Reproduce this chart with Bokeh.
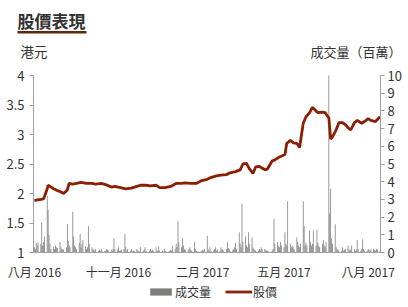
import pandas as pd
from bokeh.plotting import figure
from bokeh.models import (Range1d, LinearAxis, FixedTicker, Label, BoxAnnotation,
                          Legend, LegendItem, ColumnDataSource)
from bokeh.embed import file_html
from bokeh.resources import INLINE

# ---------------- data ----------------
price_dates = [
    "2016-08-01", "2016-08-04", "2016-08-08", "2016-08-11", "2016-08-12", "2016-08-15",
    "2016-08-16", "2016-08-18", "2016-08-22", "2016-08-26", "2016-08-31", "2016-09-02",
    "2016-09-06", "2016-09-08", "2016-09-12", "2016-09-16", "2016-09-21", "2016-09-27",
    "2016-10-03", "2016-10-07", "2016-10-13", "2016-10-18", "2016-10-24", "2016-10-28",
    "2016-11-03", "2016-11-09", "2016-11-15", "2016-11-21", "2016-11-25", "2016-12-01",
    "2016-12-06", "2016-12-12", "2016-12-16", "2016-12-22", "2016-12-28", "2017-01-03",
    "2017-01-09", "2017-01-13", "2017-01-19", "2017-01-25", "2017-01-31", "2017-02-06",
    "2017-02-10", "2017-02-16", "2017-02-21", "2017-02-27", "2017-03-03", "2017-03-09",
    "2017-03-14", "2017-03-17", "2017-03-21", "2017-03-24", "2017-03-28", "2017-03-31",
    "2017-04-04", "2017-04-07", "2017-04-11", "2017-04-13", "2017-04-18", "2017-04-21",
    "2017-04-26", "2017-05-02", "2017-05-04", "2017-05-08", "2017-05-11", "2017-05-15",
    "2017-05-18", "2017-05-22", "2017-05-25", "2017-05-29", "2017-06-01", "2017-06-05",
    "2017-06-07", "2017-06-12", "2017-06-15", "2017-06-19", "2017-06-21", "2017-06-23",
    "2017-06-27", "2017-06-30", "2017-07-04", "2017-07-07", "2017-07-11", "2017-07-13",
    "2017-07-17", "2017-07-20", "2017-07-25", "2017-07-28", "2017-08-01", "2017-08-04",
    "2017-08-09", "2017-08-14",
]
price_values = [
    1.88, 1.89, 1.90, 1.91, 1.95, 2.08,
    2.14, 2.12, 2.08, 2.05, 2.02, 2.00,
    2.06, 2.17, 2.16, 2.17, 2.19, 2.17,
    2.17, 2.16, 2.17, 2.15, 2.11, 2.12,
    2.10, 2.08, 2.09, 2.12, 2.14, 2.14,
    2.13, 2.14, 2.10, 2.10, 2.12, 2.17,
    2.17, 2.18, 2.17, 2.17, 2.22, 2.24,
    2.27, 2.30, 2.31, 2.32, 2.35, 2.37,
    2.40, 2.50, 2.51, 2.42, 2.34, 2.45,
    2.46, 2.43, 2.40, 2.42, 2.55, 2.57,
    2.62, 2.66, 2.85, 2.90, 2.86, 2.85,
    2.78, 3.19, 3.30, 3.37, 3.46, 3.40,
    3.37, 3.38, 3.37, 3.28, 2.92, 2.96,
    3.08, 3.20, 3.20, 3.17, 3.10, 3.08,
    3.20, 3.24, 3.19, 3.22, 3.27, 3.24,
    3.22, 3.30,
]

# daily volume (millions), one row per week (Mon..Fri), from 2016-08-01
vol_values = [
    0.30, 0.20, 0.55, 0.40, 0.55,
    0.50, 1.70, 0.40, 0.60, 0.90,
    3.20, 2.40, 1.00, 0.50, 0.20,
    0.30, 0.20, 0.40, 0.30, 0.25,
    0.60, 0.30, 0.20, 0.20, 0.15,
    0.30, 1.60, 0.65, 0.40, 0.30,
    2.30, 0.90, 0.40, 0.30, 0.20,
    0.55, 1.05, 0.30, 0.50, 0.70,
    0.35, 0.20, 0.30, 1.50, 0.50,
    0.30, 0.20, 0.15, 0.10, 0.20,
    0.10, 0.15, 0.10, 0.20, 0.10,
    0.10, 0.10, 0.20, 0.15, 0.10,
    0.15, 0.10, 0.20, 0.80, 0.20,
    0.15, 0.30, 0.10, 0.10, 0.15,
    0.20, 1.05, 0.30, 0.10, 0.20,
    0.10, 0.20, 0.05, 0.10, 0.10,
    0.20, 0.10, 0.10, 0.05, 0.30,
    0.10, 0.15, 0.30, 0.10, 0.05,
    0.10, 0.20, 0.10, 0.15, 0.10,
    0.30, 0.10, 0.10, 0.35, 0.10,
    0.10, 0.05, 0.20, 0.10, 0.05,
    0.05, 0.10, 0.15, 0.10, 0.40,
    0.20, 0.50, 0.30, 1.75, 0.60,
    0.30, 0.80, 0.40, 0.20, 0.15,
    0.10, 0.20, 0.30, 0.15, 0.10,
    0.60, 0.20, 0.10, 0.05, 0.05,
    0.05, 0.10, 0.15, 0.10, 0.20,
    0.95, 0.20, 0.10, 0.30, 0.10,
    0.10, 0.20, 0.30, 0.10, 0.15,
    0.10, 0.30, 0.15, 0.20, 0.10,
    0.20, 0.60, 0.25, 0.20, 0.10,
    0.15, 0.20, 0.30, 0.55, 0.20,
    1.15, 0.50, 0.30, 2.75, 0.60,
    0.90, 0.40, 0.30, 1.15, 0.50,
    0.85, 0.30, 0.20, 0.15, 0.10,
    0.10, 0.20, 0.15, 0.30, 0.20,
    0.20, 0.15, 0.10, 0.10, 0.05,
    0.05, 0.10, 0.20, 1.90, 0.50,
    0.60, 0.40, 0.30, 0.60, 0.40,
    0.30, 1.15, 0.50, 0.40, 2.90,
    0.50, 0.30, 0.40, 0.30, 0.20,
    0.85, 0.60, 0.40, 0.30, 0.50,
    2.90, 1.50, 0.40, 0.55, 0.40,
    1.25, 0.60, 0.40, 0.50, 1.25,
    0.40, 1.30, 0.55, 0.40, 0.30,
    0.50, 0.70, 0.40, 0.30, 0.60,
    10.0, 2.20, 3.60, 0.80, 0.50,
    1.60, 0.30, 0.20, 0.15, 0.10,
    0.10, 0.30, 0.10, 0.15, 0.20,
    0.40, 0.20, 0.10, 0.15, 0.40,
    0.20, 0.10, 0.15, 0.70, 0.20,
    0.10, 0.20, 0.75, 0.20, 0.10,
    0.10, 0.20, 0.15, 0.10, 0.20,
    0.20, 0.15, 0.10, 0.20, 0.15,
    0.10,
]

x_tick_dates = ["2016-08-01", "2016-11-01", "2017-02-01", "2017-05-01", "2017-08-01"]
x_tick_labels = ["八月 2016", "十一月 2016", "二月 2017", "五月 2017", "八月 2017"]
left_ticks = [1, 1.5, 2, 2.5, 3, 3.5, 4]
left_tick_labels = ["1", "1.5", "2", "2.5", "3", "3.5", "4"]
right_ticks = [0, 1, 2, 3, 4, 5, 6, 7, 8, 9, 10]
x_first, x_last = "2016-07-31", "2017-08-14 12:00"

title_text = "股價表現"
left_unit = "港元"
right_unit = "成交量（百萬）"
vol_name = "成交量"
price_name = "股價"

# ---------------- style / layout ----------------
W, H = 408, 307
PL, PR, PT, PB = 33, 380, 75, 252          # plot box in page pixels
NUM_FONT = "'Liberation Sans Narrow', 'Noto Sans CJK TC', sans-serif"
CJK_FONT = "'Noto Sans CJK TC', 'Liberation Sans', sans-serif"
PRICE_COLOR = "#8B1E03"
VOL_COLOR = "#7d7d7d"
AXIS_COLOR = "#a0a0a0"
TEXT_COLOR = "#333333"

# frame covers the whole page; axes are pinned at the plot-box edges
t0 = pd.Timestamp(x_first).value / 1e6
t1 = pd.Timestamp(x_last).value / 1e6
mpp = (t1 - t0) / (PR - PL)
x_range = Range1d(t0 - PL * mpp, t1 + (W - PR) * mpp)
lo, hi = left_ticks[0], left_ticks[-1]
upp = (hi - lo) / (PB - PT)
y_range = Range1d(lo - (H - PB) * upp, hi + PT * upp)
vlo, vhi = right_ticks[0], right_ticks[-1]
vpp = (vhi - vlo) / (PB - PT)
vol_range = Range1d(vlo - (H - PB) * vpp, vhi + PT * vpp)

p = figure(width=W, height=H, x_axis_type="datetime", x_range=x_range, y_range=y_range,
           output_backend="svg", toolbar_location=None,
           min_border=0, min_border_left=0, min_border_right=0,
           min_border_top=0, min_border_bottom=0)
p.extra_y_ranges = {"vol": vol_range}
p.outline_line_color = None
p.xgrid.visible = False
p.ygrid.visible = False

vol_dates = pd.bdate_range("2016-08-01", "2017-08-14")
assert len(vol_dates) == len(vol_values)
vol_src = ColumnDataSource(dict(x=vol_dates, v=vol_values))
price_src = ColumnDataSource(dict(x=pd.to_datetime(price_dates), y=price_values))

day_ms = 86400000
r_vol = p.vbar(x="x", top="v", bottom=vlo, width=0.85 * day_ms, source=vol_src,
               y_range_name="vol", fill_color=VOL_COLOR, line_color=None)
r_price = p.line(x="x", y="y", source=price_src, line_color=PRICE_COLOR, line_width=2.8)

# x axis
xa = p.xaxis[0]
tick_ms = [float(pd.Timestamp(d).value // 10**6) for d in x_tick_dates]
xa.ticker = FixedTicker(ticks=tick_ms)
xa.major_label_overrides = {t: lab for t, lab in zip(tick_ms, x_tick_labels)}
xa.fixed_location = lo
xa.bounds = (t0, t1)
xa.major_tick_out = 0
xa.major_tick_in = 0
xa.minor_tick_out = 0
xa.minor_tick_in = 0
xa.axis_line_color = AXIS_COLOR
xa.major_label_text_font = NUM_FONT
xa.major_label_text_font_size = "12px"
xa.major_label_text_color = TEXT_COLOR
xa.major_label_standoff = 10

# left axis
ya = p.yaxis[0]
ya.ticker = FixedTicker(ticks=left_ticks)
ya.major_label_overrides = {float(t): lab for t, lab in zip(left_ticks, left_tick_labels)}
ya.fixed_location = t0
ya.bounds = (lo, hi)
ya.major_tick_out = 4
ya.major_tick_in = 0
ya.minor_tick_out = 0
ya.minor_tick_in = 0
ya.axis_line_color = AXIS_COLOR
ya.major_tick_line_color = AXIS_COLOR
ya.major_label_text_font = NUM_FONT
ya.major_label_text_font_size = "13px"
ya.major_label_text_color = TEXT_COLOR
ya.major_label_standoff = 5

# right axis (volume)
ra = LinearAxis(y_range_name="vol", ticker=FixedTicker(ticks=right_ticks))
ra.fixed_location = t1
ra.bounds = (vlo, vhi)
ra.major_tick_out = 4
ra.major_tick_in = 0
ra.minor_tick_out = 0
ra.minor_tick_in = 0
ra.axis_line_color = AXIS_COLOR
ra.major_tick_line_color = AXIS_COLOR
ra.major_label_text_font = NUM_FONT
ra.major_label_text_font_size = "13px"
ra.major_label_text_color = TEXT_COLOR
ra.major_label_standoff = 3
p.add_layout(ra, "right")

# texts (screen units: from bottom-left of the page-sized frame)
p.add_layout(Label(x=17, y=H - 20, x_units="screen", y_units="screen", text=title_text,
                   text_font=CJK_FONT, text_font_size="17px", text_font_style="bold",
                   text_color=TEXT_COLOR, text_baseline="middle", text_align="left"))
p.add_layout(BoxAnnotation(left=17, right=86, top=H - 30.5, bottom=H - 33,
                           left_units="screen", right_units="screen",
                           top_units="screen", bottom_units="screen",
                           fill_color="#5c2a0a", fill_alpha=1, line_color=None))
p.add_layout(Label(x=20, y=H - 50, x_units="screen", y_units="screen", text=left_unit,
                   text_font=CJK_FONT, text_font_size="13.5px",
                   text_color=TEXT_COLOR, text_baseline="middle", text_align="left"))
p.add_layout(Label(x=401, y=H - 51, x_units="screen", y_units="screen", text=right_unit,
                   text_font=CJK_FONT, text_font_size="13px",
                   text_color=TEXT_COLOR, text_baseline="middle", text_align="right"))

legend = Legend(items=[LegendItem(label=vol_name, renderers=[r_vol]),
                       LegendItem(label=price_name, renderers=[r_price])],
                location=(147, H - 300), orientation="horizontal",
                glyph_width=27, glyph_height=9, label_standoff=1, spacing=14,
                padding=0, margin=0, border_line_color=None, background_fill_alpha=0,
                label_text_font=CJK_FONT, label_text_font_size="12px",
                label_text_color=TEXT_COLOR, label_height=14)
p.add_layout(legend, "center")

open("out.html", "w").write(file_html(p, INLINE))
